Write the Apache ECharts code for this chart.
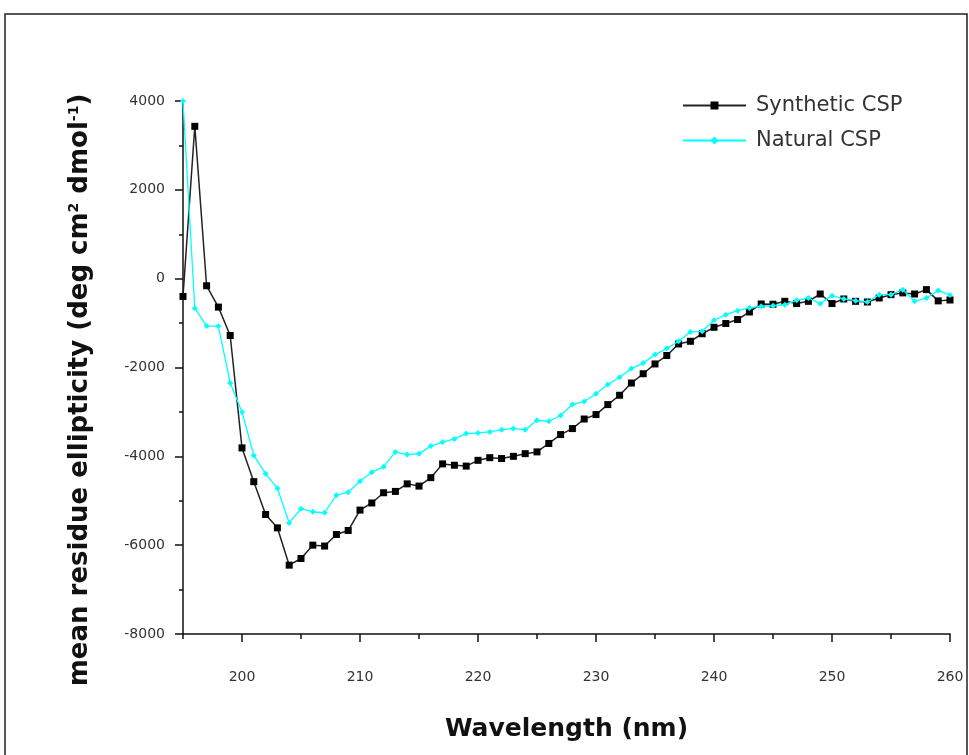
<!DOCTYPE html>
<html>
<head>
<meta charset="utf-8">
<script src="https://cdn.jsdelivr.net/npm/echarts@6/dist/echarts.min.js"></script>
<style>
html,body{margin:0;padding:0;background:#fff;}
#chart{width:969px;height:755px;}
</style>
</head>
<body>
<div id="chart"></div>
<script>
const wavelengths = [195,196,197,198,199,200,201,202,203,204,205,206,207,208,209,210,211,212,213,214,215,216,217,218,219,220,221,222,223,224,225,226,227,228,229,230,231,232,233,234,235,236,237,238,239,240,241,242,243,244,245,246,247,248,249,250,251,252,253,254,255,256,257,258,259,260];
const synthetic = [-400,3430,-160,-640,-1280,-3810,-4570,-5310,-5610,-6450,-6300,-6000,-6020,-5760,-5670,-5210,-5050,-4820,-4790,-4620,-4670,-4480,-4170,-4200,-4220,-4090,-4030,-4050,-4000,-3940,-3900,-3710,-3510,-3375,-3160,-3060,-2835,-2625,-2350,-2140,-1920,-1730,-1470,-1410,-1240,-1095,-1010,-920,-750,-570,-575,-510,-560,-510,-345,-560,-457,-510,-525,-435,-360,-320,-345,-247,-500,-480];
const natural = [4000,-665,-1065,-1073,-2347,-3000,-3980,-4390,-4720,-5500,-5180,-5250,-5270,-4875,-4807,-4560,-4357,-4237,-3900,-3960,-3940,-3770,-3680,-3607,-3487,-3472,-3450,-3400,-3375,-3400,-3190,-3210,-3080,-2835,-2765,-2590,-2385,-2220,-2025,-1900,-1710,-1575,-1410,-1200,-1185,-937,-810,-720,-660,-620,-610,-585,-487,-435,-562,-382,-457,-495,-525,-360,-360,-250,-510,-435,-265,-370];
const xMajorTicks = [200,210,220,230,240,250,260];
const xMinorTicks = [195,205,215,225,235,245,255];
const seriesNames = ['Synthetic CSP','Natural CSP'];

const FONT = '"DejaVu Sans", "Liberation Sans", Arial, sans-serif';
const chart = echarts.init(document.getElementById('chart'), null, {renderer:'canvas'});
const pairs = (ys) => wavelengths.map((x,i)=>[x, ys[i]]);

chart.setOption({
  backgroundColor:'#fff',
  animation:false,
  grid:{left:183, right:19, top:101, bottom:121, containLabel:false},
  legend:{
    data:seriesNames,
    orient:'vertical',
    left:677, top:90,
    itemWidth:63, itemHeight:10, itemGap:14,
    textStyle:{fontFamily:FONT, fontSize:21, color:'#333', padding:[0,0,0,5]}
  },
  xAxis:[{
    type:'value', min:195, max:260,
    axisLine:{show:true, onZero:false, lineStyle:{color:'#111', width:1.5}},
    axisTick:{show:true, customValues:xMajorTicks, length:8, inside:false, lineStyle:{color:'#111', width:1.5}},
    axisLabel:{customValues:xMajorTicks, margin:36, fontFamily:FONT, fontSize:14, color:'#333'},
    splitLine:{show:false},
    name:'Wavelength (nm)', nameLocation:'middle', nameGap:83,
    nameTextStyle:{fontFamily:FONT, fontSize:25, fontWeight:'bold', color:'#111'}
  },{
    type:'value', min:195, max:260, position:'bottom',
    axisLine:{show:false, onZero:false},
    axisTick:{show:true, customValues:xMinorTicks, length:5, lineStyle:{color:'#111', width:1.5}},
    axisLabel:{show:false},
    splitLine:{show:false}
  }],
  yAxis:{
    type:'value', min:-8000, max:4000, interval:2000,
    axisLine:{show:true, onZero:false, lineStyle:{color:'#111', width:1.5}},
    axisTick:{show:true, length:8, lineStyle:{color:'#111', width:1.5}},
    minorTick:{show:true, splitNumber:2, length:4, lineStyle:{color:'#111', width:1.5}},
    axisLabel:{margin:18, fontFamily:FONT, fontSize:14, color:'#333', formatter:(v)=>String(v)},
    splitLine:{show:false}
  },
  graphic:[
    {type:'rect', shape:{x:5, y:14, width:962, height:780}, style:{fill:'none', stroke:'#222', lineWidth:1.5}, silent:true, z:-1},
    {type:'text', x:80, y:390, rotation:Math.PI/2,
      style:{
        text:'mean residue ellipticity (deg cm{sup|2} dmol{sup|-1})',
        fontFamily:FONT, fontSize:26, fontWeight:'bold', fill:'#111',
        align:'center', verticalAlign:'middle',
        rich:{sup:{fontSize:14, fontWeight:'bold', fontFamily:FONT, verticalAlign:'top', padding:[0,0,12,0], fill:'#111'}}
      }
    }
  ],
  series:[
    {
      name:seriesNames[0], type:'line', data:pairs(synthetic),
      xAxisIndex:0,
      symbol:'rect', symbolSize:7,
      itemStyle:{color:'#000'},
      lineStyle:{color:'#222', width:1.5},
      z:2
    },
    {
      name:seriesNames[1], type:'line', data:pairs(natural),
      xAxisIndex:0,
      symbol:'diamond', symbolSize:6,
      itemStyle:{color:'#00ffff'},
      lineStyle:{color:'#00ffff', width:1.3},
      z:3
    }
  ]
});
</script>
</body>
</html>
